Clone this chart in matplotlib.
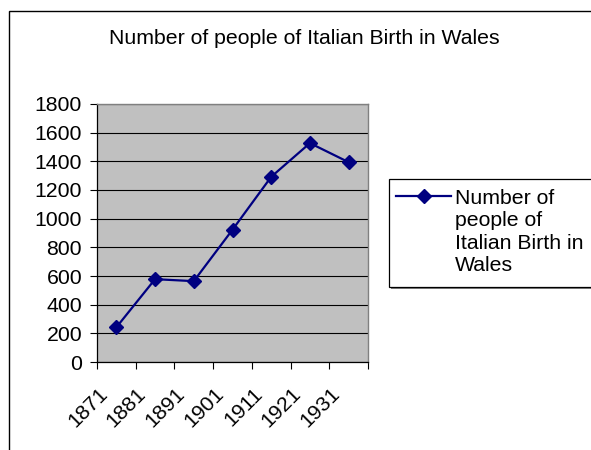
import numpy as np
import matplotlib
matplotlib.use('Agg')
import matplotlib.pyplot as plt
from matplotlib.patches import Rectangle
from matplotlib.lines import Line2D
import matplotlib.transforms as mtransforms

# ---- data ----
years = ['1871', '1881', '1891', '1901', '1911', '1921', '1931']
people = [242, 578, 564, 923, 1292, 1527, 1394]
yticks = [0, 200, 400, 600, 800, 1000, 1200, 1400, 1600, 1800]
title = 'Number of people of Italian Birth in Wales'
series_label = 'Number of\npeople of\nItalian Birth in\nWales'

plt.rcParams['font.family'] = ['Liberation Sans', 'DejaVu Sans']
FS = 15.3
NAVY = '#000080'
MS = 7.2

W, H = 591, 450
fig = plt.figure(figsize=(W / 100, H / 100), dpi=100)
fig.patch.set_facecolor('white')


def fx(px):
    return px / W


def fy(py):
    return 1 - py / H


# chart border (extends beyond the image on right/bottom)
fig.add_artist(Rectangle((fx(9), fy(700)), fx(800), (700 - 11) / H,
                         transform=fig.transFigure, fill=False,
                         ec='black', lw=1.0))

ax = fig.add_axes([fx(97), fy(362), fx(368) - fx(97), (362 - 104) / H])
x = np.arange(len(years))
ax.plot(x, people, color=NAVY, lw=1.6, marker='D', ms=MS,
        mfc=NAVY, mec=NAVY, mew=1, zorder=3)

ax.set_xlim(-0.5, len(years) - 0.5)
ax.set_ylim(0, 1800)
ax.set_facecolor('#C0C0C0')
ax.set_yticks(yticks)
ax.grid(axis='y', color='black', lw=0.8)
ax.set_axisbelow(True)

ax.set_xticks(x)
ax.set_xticklabels(years)
ax.set_xticks(np.arange(len(years) + 1) - 0.5, minor=True)
ax.tick_params(axis='x', which='major', length=0, pad=21, labelsize=FS)
ax.tick_params(axis='x', which='minor', length=4.8, width=0.8, color='black')
ax.tick_params(axis='y', length=4.8, width=0.8, pad=6, labelsize=FS)

offset = mtransforms.ScaledTranslation(-12 / 100, 0, fig.dpi_scale_trans)
for lab in ax.get_xticklabels():
    lab.set_rotation(45)
    lab.set_ha('right')
    lab.set_va('center')
    lab.set_rotation_mode('anchor')
    lab.set_transform(lab.get_transform() + offset)

for s in ['left', 'bottom']:
    ax.spines[s].set_color('black')
    ax.spines[s].set_linewidth(0.9)
for s in ['top', 'right']:
    ax.spines[s].set_color('#808080')
    ax.spines[s].set_linewidth(1.0)

# title
fig.text(fx(304), fy(44), title, ha='center', va='baseline', fontsize=FS)

# legend (drawn manually to match Excel layout)
fig.add_artist(Rectangle((fx(391), fy(289)), fx(700), (289 - 181) / H,
                         transform=fig.transFigure, fc='#808080', ec='none'))
fig.add_artist(Rectangle((fx(389), fy(287)), fx(700), (287 - 179) / H,
                         transform=fig.transFigure, fc='white', ec='black',
                         lw=0.9))
fig.add_artist(Line2D([fx(396), fx(423.5), fx(451)], [fy(196)] * 3,
                      transform=fig.transFigure, color=NAVY, lw=1.6,
                      marker='D', ms=MS, mfc=NAVY, mec=NAVY, markevery=[1]))
fig.text(fx(455), fy(189), series_label, ha='left', va='top',
         fontsize=FS, linespacing=1.22)

fig.savefig('out.png', dpi=100)
